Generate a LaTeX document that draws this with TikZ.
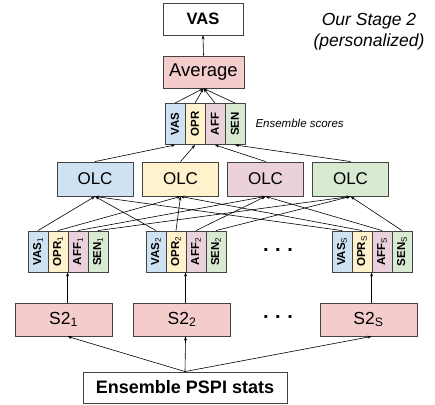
\documentclass[tikz,border=0pt]{standalone}
\usepackage{fontspec}
\setmainfont{Liberation Sans}
\usepackage{graphicx}
\usetikzlibrary{arrows.meta}
\definecolor{edgegray}{RGB}{67, 67, 67}
\definecolor{vasblue}{RGB}{207, 226, 243}
\definecolor{opryellow}{RGB}{255, 242, 204}
\definecolor{affpink}{RGB}{234, 209, 220}
\definecolor{sengreen}{RGB}{217, 234, 211}
\definecolor{stagered}{RGB}{244, 204, 204}

\begin{document}
\begin{tikzpicture}[
        x=1pt, y=-1pt,
        box/.style={rectangle, draw=edgegray, line width=0.9pt, inner sep=0pt},
        olc/.style={box, minimum width=76pt, minimum height=34pt, font=\fontsize{17}{20}\selectfont},
        stage/.style={box, fill=stagered, minimum width=97pt, minimum height=33pt, font=\fontsize{17.5}{20}\selectfont},
        score/.style={box, minimum width=20pt, minimum height=41pt, font=\fontsize{11.5}{13}\selectfont\bfseries},
        flow/.style={-{Stealth[length=4pt, width=3pt]}, line width=0.6pt, color=black},
        dots/.style={font=\fontsize{20}{20}\selectfont\bfseries}
    ]
    \useasboundingbox (0,0) rectangle (435,404);

    % Output and averaging
    \node[box, minimum width=80pt, minimum height=32pt, font=\fontsize{16.5}{20}\selectfont\bfseries] (vas_out) at (203,19) {VAS};
    \node[box, fill=stagered, minimum width=81pt, minimum height=32pt, font=\fontsize{18.5}{20}\selectfont] (average) at (203.5,72) {Average};
    \node[align=center, font=\fontsize{17.5}{21}\selectfont\itshape] (title) at (369,32) {Our Stage 2\\(personalized)};

    % Ensemble scores
    \node[score, fill=vasblue] (ens_vas) at (175,124) {\rotatebox{90}{VAS}};
    \node[score, fill=opryellow] (ens_opr) at (195,124) {\rotatebox{90}{OPR}};
    \node[score, fill=affpink] (ens_aff) at (215,124) {\rotatebox{90}{AFF}};
    \node[score, fill=sengreen] (ens_sen) at (235,124) {\rotatebox{90}{SEN}};
    \node[anchor=west, font=\fontsize{11.5}{14}\selectfont\itshape] (ens_label) at (252,123) {Ensemble scores};

    % OLC per score
    \node[olc, fill=vasblue] (olc_vas) at (95,179) {OLC};
    \node[olc, fill=opryellow] (olc_opr) at (180.5,179) {OLC};
    \node[olc, fill=affpink] (olc_aff) at (265.5,179) {OLC};
    \node[olc, fill=sengreen] (olc_sen) at (350.5,179) {OLC};

    % Scores of each stage 2 model
    \node[score, fill=vasblue] (vas_1) at (38,251.5) {\rotatebox{90}{VAS\textsubscript{\mdseries 1}}};
    \node[score, fill=opryellow] (opr_1) at (58,251.5) {\rotatebox{90}{OPR\textsubscript{\mdseries 1}}};
    \node[score, fill=affpink] (aff_1) at (78,251.5) {\rotatebox{90}{AFF\textsubscript{\mdseries 1}}};
    \node[score, fill=sengreen] (sen_1) at (98,251.5) {\rotatebox{90}{SEN\textsubscript{\mdseries 1}}};

    \node[score, fill=vasblue] (vas_2) at (156,251.5) {\rotatebox{90}{VAS\textsubscript{\mdseries 2}}};
    \node[score, fill=opryellow] (opr_2) at (176,251.5) {\rotatebox{90}{OPR\textsubscript{\mdseries 2}}};
    \node[score, fill=affpink] (aff_2) at (196,251.5) {\rotatebox{90}{AFF\textsubscript{\mdseries 2}}};
    \node[score, fill=sengreen] (sen_2) at (216,251.5) {\rotatebox{90}{SEN\textsubscript{\mdseries 2}}};

    \node[dots] (dots_scores) at (278,250) {.\,\,.\,\,.};

    \node[score, fill=vasblue] (vas_s) at (342,251.5) {\rotatebox{90}{VAS\textsubscript{\mdseries S}}};
    \node[score, fill=opryellow] (opr_s) at (362,251.5) {\rotatebox{90}{OPR\textsubscript{\mdseries S}}};
    \node[score, fill=affpink] (aff_s) at (382,251.5) {\rotatebox{90}{AFF\textsubscript{\mdseries S}}};
    \node[score, fill=sengreen] (sen_s) at (402,251.5) {\rotatebox{90}{SEN\textsubscript{\mdseries S}}};

    % Stage 2 models
    \node[stage] (s2_1) at (63.5,319.5) {S2\textsubscript{1}};
    \node[stage] (s2_2) at (182,319.5) {S2\textsubscript{2}};
    \node[dots] (dots_stage) at (278,317) {.\,\,.\,\,.};
    \node[stage] (s2_s) at (368.5,319.5) {S2\textsubscript{S}};

    % Input
    \node[box, minimum width=204pt, minimum height=31pt, font=\fontsize{18}{20}\selectfont\bfseries] (pspi) at (185,387.5) {Ensemble PSPI stats};

    % Input to stage 2 models
    \draw[flow] (pspi.north) -- (s2_1.south -| aff_1.south west);
    \draw[flow] (pspi.north) -- (s2_2.south -| aff_2.south west);
    \draw[flow] (pspi.north) -- (s2_s.south -| aff_s.south west);

    % Stage 2 models to their scores
    \draw[flow] (s2_1.north -| aff_1.south west) -- (aff_1.south west);
    \draw[flow] (s2_2.north -| aff_2.south west) -- (aff_2.south west);
    \draw[flow] (s2_s.north -| aff_s.south west) -- (aff_s.south west);

    % Scores to OLC
    \draw[flow] (vas_1.north) -- (olc_vas.south);
    \draw[flow] (vas_2.north) -- (olc_vas.south);
    \draw[flow] (vas_s.north) -- (olc_vas.south);
    \draw[flow] (opr_1.north) -- (olc_opr.south);
    \draw[flow] (opr_2.north) -- (olc_opr.south);
    \draw[flow] (opr_s.north) -- (olc_opr.south);
    \draw[flow] (aff_1.north) -- (olc_aff.south);
    \draw[flow] (aff_2.north) -- (olc_aff.south);
    \draw[flow] (aff_s.north) -- (olc_aff.south);
    \draw[flow] (sen_1.north) -- (olc_sen.south);
    \draw[flow] (sen_2.north) -- (olc_sen.south);
    \draw[flow] (sen_s.north) -- (olc_sen.south);

    % OLC to ensemble scores
    \draw[flow] (olc_vas.north) -- (ens_vas.south);
    \draw[flow] (olc_opr.north) -- (ens_opr.south);
    \draw[flow] (olc_aff.north) -- (ens_aff.south);
    \draw[flow] (olc_sen.north) -- (ens_sen.south);

    % Ensemble scores to output
    \draw[flow] (ens_vas.north) -- (average.south);
    \draw[flow] (ens_opr.north) -- (average.south);
    \draw[flow] (ens_aff.north) -- (average.south);
    \draw[flow] (ens_sen.north) -- (average.south);
    \draw[flow] (average.north) -- (vas_out.south);

    \end{tikzpicture}
\end{document}
